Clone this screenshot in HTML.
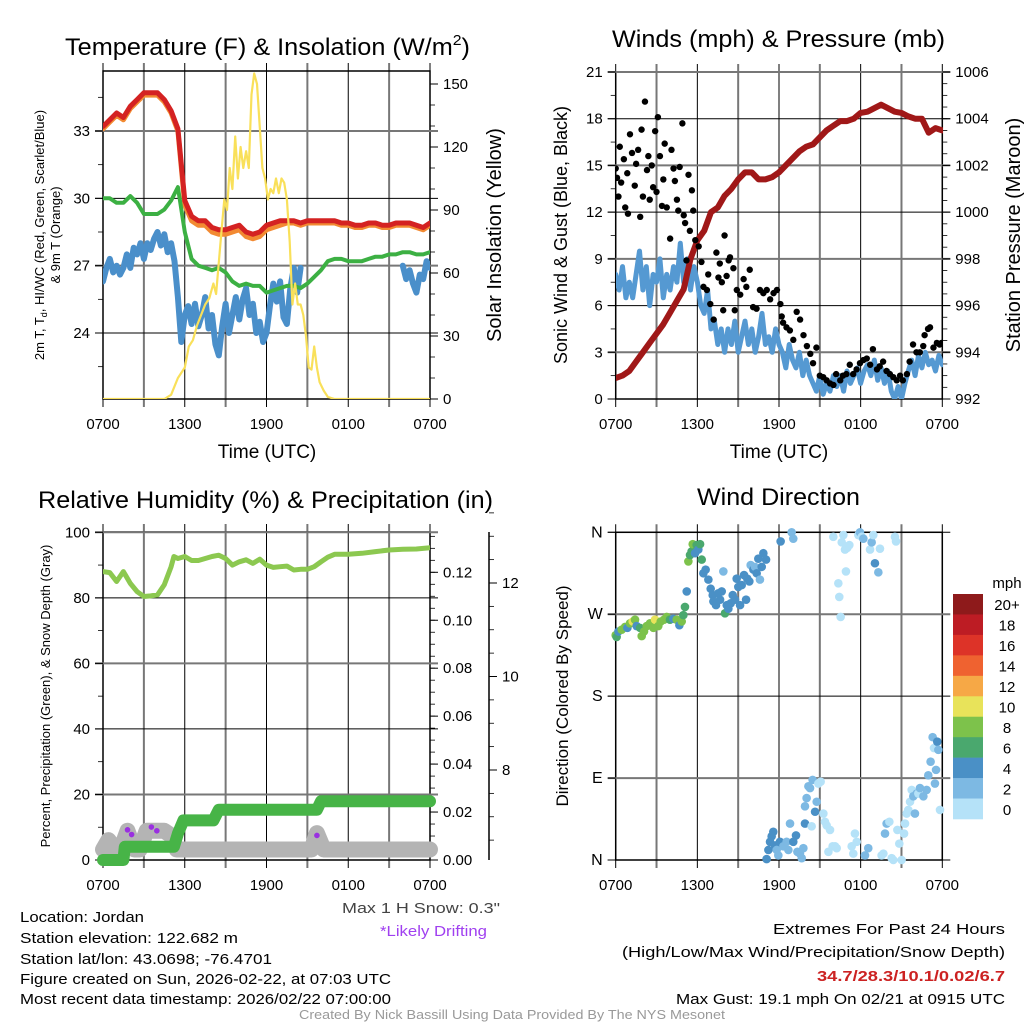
<!DOCTYPE html>
<html><head><meta charset="utf-8"><style>
html,body{margin:0;padding:0;background:#fff;}
svg{display:block;font-family:"Liberation Sans",sans-serif;}
</style></head><body>
<svg id="fig" width="1024" height="1024" viewBox="0 0 1024 1024" xmlns="http://www.w3.org/2000/svg">
<defs>
<clipPath id="c1"><rect x="103" y="71" width="327" height="328"/></clipPath>
<clipPath id="c2"><rect x="616" y="72" width="327" height="327"/></clipPath>
<clipPath id="c3"><rect x="103" y="532" width="327" height="328"/></clipPath>
<clipPath id="c4"><rect x="610" y="526" width="339" height="340"/></clipPath>
</defs>
<text x="65" y="55" font-size="24" textLength="405" lengthAdjust="spacingAndGlyphs">Temperature (F) &amp; Insolation (W/m<tspan font-size="15" dy="-10">2</tspan><tspan dy="10">)</tspan></text>
<text x="612" y="47" font-size="24" textLength="333" lengthAdjust="spacingAndGlyphs">Winds (mph) &amp; Pressure (mb)</text>
<text x="38" y="508" font-size="24" textLength="455" lengthAdjust="spacingAndGlyphs">Relative Humidity (%) &amp; Precipitation (in)</text>
<text x="697" y="505" font-size="24" textLength="163" lengthAdjust="spacingAndGlyphs">Wind Direction</text>

<text transform="translate(44,235) rotate(-90)" text-anchor="middle" font-size="13">2m T, T<tspan font-size="9" dy="3">d</tspan><tspan dy="-3">, HI/WC (Red, Green, Scarlet/Blue)</tspan></text>
<text transform="translate(60,235) rotate(-90)" text-anchor="middle" font-size="13">&amp; 9m T (Orange)</text>
<text transform="translate(501,235) rotate(-90)" text-anchor="middle" font-size="20">Solar Insolation (Yellow)</text>
<text transform="translate(567,235) rotate(-90)" text-anchor="middle" font-size="18">Sonic Wind &amp; Gust (Blue, Black)</text>
<text transform="translate(1020,235) rotate(-90)" text-anchor="middle" font-size="20">Station Pressure (Maroon)</text>
<text transform="translate(50,696) rotate(-90)" text-anchor="middle" font-size="13">Percent, Precipitation (Green), &amp; Snow Depth (Gray)</text>
<text transform="translate(568,696) rotate(-90)" text-anchor="middle" font-size="17">Direction (Colored By Speed)</text>
<text x="267" y="458" text-anchor="middle" font-size="19">Time (UTC)</text>
<text x="779" y="458" text-anchor="middle" font-size="19">Time (UTC)</text>

<g font-size="15">
<text x="500" y="913" text-anchor="end" fill="#444" textLength="158" lengthAdjust="spacingAndGlyphs">Max 1 H Snow: 0.3"</text>
<text x="487" y="936" text-anchor="end" fill="#a040f0" textLength="107" lengthAdjust="spacingAndGlyphs">*Likely Drifting</text>
<text x="20" y="922" textLength="124" lengthAdjust="spacingAndGlyphs">Location: Jordan</text>
<text x="20" y="943" textLength="218" lengthAdjust="spacingAndGlyphs">Station elevation: 122.682 m</text>
<text x="20" y="964" textLength="252" lengthAdjust="spacingAndGlyphs">Station lat/lon: 43.0698; -76.4701</text>
<text x="20" y="984" textLength="371" lengthAdjust="spacingAndGlyphs">Figure created on Sun, 2026-02-22, at 07:03 UTC</text>
<text x="20" y="1004" textLength="371" lengthAdjust="spacingAndGlyphs">Most recent data timestamp: 2026/02/22 07:00:00</text>
<text x="1005" y="934" text-anchor="end" textLength="232" lengthAdjust="spacingAndGlyphs">Extremes For Past 24 Hours</text>
<text x="1005" y="957" text-anchor="end" textLength="383" lengthAdjust="spacingAndGlyphs">(High/Low/Max Wind/Precipitation/Snow Depth)</text>
<text x="1005" y="981" text-anchor="end" fill="#cc2222" font-weight="bold" textLength="188" lengthAdjust="spacingAndGlyphs">34.7/28.3/10.1/0.02/6.7</text>
<text x="1005" y="1004" text-anchor="end" textLength="329" lengthAdjust="spacingAndGlyphs">Max Gust: 19.1 mph On 02/21 at 0915 UTC</text>
</g>
<text x="512" y="1019" text-anchor="middle" font-size="12.5" fill="#999" textLength="426" lengthAdjust="spacingAndGlyphs">Created By Nick Bassill Using Data Provided By The NYS Mesonet</text>
</svg>
<script>
// ---------- data (hours since 0700 UTC) ----------
const xTickLabels = ["0700","1300","1900","0100","0700"];
const halfHours = [0,0.5,1,1.5,2,2.5,3,3.5,4,4.5,5,5.5,6,6.5,7,7.5,8,8.5,9,9.5,10,10.5,11,11.5,12,12.5,13,13.5,14,14.5,15,15.5,16,16.5,17,17.5,18,18.5,19,19.5,20,20.5,21,21.5,22,22.5,23,23.5,24];
const quarterHours = [];
for (let i = 0; i <= 96; i++) quarterHours.push(i / 4);
const tempRed = [33.2,33.5,33.8,33.6,34.1,34.4,34.7,34.7,34.7,34.4,33.9,33.1,29.9,29.2,29.0,29.0,28.7,28.6,28.6,28.7,28.8,28.5,28.4,28.5,28.8,28.9,29.0,29.0,29.0,28.9,29.0,29.0,29.0,29.0,29.0,28.9,28.9,28.8,28.8,28.9,28.9,28.8,28.8,28.9,28.9,28.9,28.8,28.7,28.9];
const temp9m = [33.1,33.4,33.7,33.5,34.0,34.3,34.6,34.6,34.6,34.3,33.8,33.0,29.7,29.0,28.8,28.8,28.5,28.4,28.4,28.5,28.6,28.3,28.2,28.3,28.6,28.7,28.8,28.9,28.9,28.8,28.9,28.9,28.9,28.9,28.9,28.8,28.8,28.7,28.7,28.8,28.8,28.7,28.7,28.8,28.8,28.8,28.7,28.6,28.8];
const dewGreen = [30.0,30.0,29.8,29.8,30.1,29.8,29.3,29.3,29.3,29.5,29.9,30.5,28.5,27.3,27.0,26.9,26.8,26.9,26.7,26.3,26.1,26.2,26.1,26.1,25.8,25.9,26.0,26.1,26.1,26.0,26.2,26.5,26.8,27.2,27.3,27.3,27.2,27.2,27.2,27.3,27.4,27.4,27.5,27.5,27.6,27.6,27.5,27.5,27.6];
const hiwcBlue = [26.3,26.9,27.3,26.7,27.0,26.6,26.9,27.5,26.9,27.8,27.5,28.0,27.3,28.0,27.7,28.2,28.5,27.9,28.4,27.6,28.0,27.2,25.6,23.6,24.8,25.2,24.4,25.3,24.3,24.8,25.6,24.2,24.8,23.5,23.0,24.3,25.3,24.0,24.8,25.6,24.6,25.5,26.0,24.8,25.3,24.0,24.5,23.6,24.0,25.2,26.2,25.4,26.3,24.7,24.4,26.0,26.9,25.8,26.9,null,null,null,null,null,null,null,null,null,null,null,null,null,null,null,null,null,null,null,null,null,null,null,null,null,null,null,null,null,27.0,26.4,26.8,26.2,25.8,26.6,26.4,27.2,26.9];
const insTimes = [0,4.5,5,5.5,6,6.3,6.6,6.9,7.2,7.5,7.8,8.1,8.3,8.5,8.7,8.9,9.1,9.3,9.5,9.7,9.9,10.1,10.3,10.5,10.7,10.9,11.1,11.3,11.5,11.7,11.9,12.1,12.3,12.5,12.7,12.9,13.1,13.3,13.5,13.7,13.9,14.1,14.3,14.5,14.7,14.9,15.1,15.3,15.5,15.7,15.9,16.2,16.5,17,24];
const insolation = [0,0,2,10,15,25,28,35,40,45,48,55,50,65,80,95,90,110,100,125,105,120,110,118,110,145,155,150,130,110,105,95,100,98,105,98,105,103,95,75,45,55,45,45,40,30,15,14,25,15,8,4,1,0,0];
const windSpeed = [8,7,8.5,6.5,7.5,6.5,8,9.5,7,8.5,6,8,7.5,9,6.5,8,7,8.5,7.5,10,7.5,9,7,8.5,7.5,6,5.5,7,4.5,5,3.5,4.5,3,4.5,3.5,5,3,4,5,3.5,4.5,3,4,5.5,3.5,4,3,4.5,3.5,3,2,3.5,2.5,2,3,1.5,2.5,1.5,1,0.5,1.5,0.3,1,0.5,1.5,0.8,1.5,0.5,1.8,1,1.5,2,1,1.8,2.2,1.5,2.5,1.2,2,1,1.8,0.5,0,0.8,0,1,1.8,2.5,1.5,2.8,2,3,2.2,2.5,1.8,2.8,2.2];
const pressure = [992.9,993.0,993.2,993.6,994.0,994.4,994.8,995.2,995.7,996.2,996.7,998.0,998.8,999.2,1000.0,1000.2,1000.7,1001.0,1001.4,1001.7,1001.7,1001.4,1001.4,1001.5,1001.7,1002.0,1002.3,1002.6,1002.8,1002.9,1003.2,1003.5,1003.7,1003.9,1003.9,1004.0,1004.25,1004.3,1004.45,1004.6,1004.45,1004.3,1004.25,1004.1,1004.0,1004.0,1003.4,1003.6,1003.5];
const gustTimes = [0,0.1,0.2,0.3,0.4,0.6,0.7,0.85,0.9,1.05,1.2,1.4,1.5,1.65,1.8,1.9,2.0,2.15,2.3,2.4,2.5,2.65,2.75,2.9,3.0,3.1,3.25,3.4,3.5,3.6,3.75,4.0,4.1,4.25,4.35,4.5,4.6,4.7,4.9,5.0,5.1,5.2,5.35,5.45,5.6,5.7,5.85,6.1,6.3,6.45,6.7,6.8,6.95,7.2,7.4,7.55,7.65,7.8,7.9,8.0,8.15,8.3,8.4,8.65,8.75,8.9,9.15,9.4,9.6,9.85,10.1,10.35,10.6,10.85,11.1,11.35,11.6,11.85,12.1,12.2,12.3,12.55,12.8,13.05,13.3,13.55,13.8,14.05,14.3,14.5,14.75,15.0,15.25,15.5,15.75,16.0,16.2,16.5,16.7,16.95,17.2,17.45,17.7,17.95,18.2,18.45,18.7,18.9,19.2,19.4,19.65,19.9,20.15,20.4,20.65,20.9,21.1,21.4,21.6,21.85,22.1,22.35,22.6,22.7,22.95,23.1,23.35,23.6,23.8,23.95];
const gustValues = [14.8,14.2,13,16.2,13.9,15.4,12.3,14.5,11.9,17,15.8,13.7,15.1,16,11.7,17.3,13,19.1,14.7,15.6,12.8,15,13.6,17.2,13.3,18.1,15.6,12.4,14.1,16.4,12.3,10.3,16,14.8,14,12.8,12.1,14.9,17.7,11.8,11.3,8.9,14.4,10.8,13.4,12.1,10.2,9.8,8.8,7.2,7,8,6.1,5.1,9.4,7.8,8.7,7.5,5.7,10.5,7.9,8.9,9.1,8.4,5.7,7,6.7,7.7,7.2,8.3,5.9,5.8,7,6.8,7,6.4,6.8,7,6.1,5.3,4.9,4.6,4.4,3.8,5.6,5.1,4.1,3.4,2.9,2.3,3.3,1.5,1.4,1.2,1,0.9,1.6,1.2,1.5,1.6,2.2,1.6,1.9,2.3,2.5,2.6,2.2,3.2,1.9,2.1,2.4,1.8,1.6,1.4,1.2,1.5,1.2,1.6,2.4,3.5,3,3,3.4,4.1,4.5,4.6,3.3,3.6,3.5,3.6];
const rhTimes = [0,0.5,1,1.5,2,2.5,3,3.5,4,4.5,5,5.2,5.5,6,6.5,7,7.5,8,8.5,9,9.5,10,10.5,11,11.5,12,12.5,13,13.5,14,14.5,15,15.5,16,16.5,17,18,19,20,21,22,23,24];
const rhValues = [88,87.7,85,88,84.4,81.9,80.4,80.6,80.9,84,89.5,92.6,92,92.6,91.4,91.4,92,92.6,93,92,90,91,91.6,90.5,91.8,90,89.3,89.5,89.7,88.5,88.7,88.7,89.5,91,92.4,93.3,93.3,93.6,94.1,94.6,94.8,94.9,95.3];
const precipTimes = [0,1.5,1.6,5.2,5.5,5.9,8.1,8.5,15.7,16.0,24];
const precipValues = [0,0,0.0055,0.0055,0.011,0.0165,0.0165,0.021,0.021,0.0245,0.0245];
const snowTimes = [0,0.4,0.9,1.3,1.8,2.3,2.7,3.2,4.5,5.0,5.4,6,15.3,15.7,16.2,24];
const snowValues = [6.3,6.5,6.3,6.3,6.7,6.3,6.3,6.7,6.7,6.6,6.3,6.3,6.3,6.65,6.3,6.3];
const driftTimes = [1.8,2.1,3.55,3.95,15.7];
const driftValues = [6.72,6.62,6.78,6.7,6.6];
const dirTimes = [0,0.07,0.2,0.44,0.69,0.86,1.05,1.25,1.42,1.54,1.79,1.91,2.08,2.28,2.52,2.77,2.89,3.13,3.31,3.55,3.75,3.99,4.24,4.48,4.68,4.85,4.97,5.09,5.22,5.34,5.46,5.58,5.66,5.83,5.95,6.07,6.2,6.32,6.44,6.61,6.81,6.98,7.13,7.18,7.37,7.54,7.67,7.79,7.91,8.03,8.16,8.28,8.45,8.6,8.77,8.89,9.01,9.14,9.26,9.43,9.58,9.67,9.82,9.92,10.12,10.24,10.36,10.48,10.6,10.73,10.85,11.05,11.09,11.22,11.34,11.46,11.58,11.71,11.83,11.95,12.07,12.12,12.93,13.05,12.32,12.56,12.69,12.81,13.05,13.25,13.35,13.54,13.67,13.79,13.91,13.91,14.03,14.16,14.28,14.4,14.47,14.65,14.77,14.89,15.06,15.26,15.38,15.5,15.63,15.75,15.94,15.99,16.12,16.24,16.36,16.43,16.53,16.61,16.73,16.85,16.92,17.02,17.17,17.34,17.46,17.58,17.71,17.83,17.95,18.08,18.2,18.32,18.56,18.69,18.81,18.93,19.05,19.3,19.42,19.54,19.67,19.79,19.91,20.11,20.28,20.4,20.52,20.6,20.7,20.84,21.01,21.19,21.26,21.38,21.5,21.63,21.75,21.87,21.99,22.12,22.24,22.36,22.61,22.85,22.97,23.14,23.29,23.39,23.46,23.54,23.63,23.71,23.83,23.95];
const dirDegrees = [247,245,251,253,256,255,260,262,264,257,255,246,251,257,260,255,264,257,262,264,267,264,265,264,258,262,269,278,295,328,335,339,347,337,346,341,347,330,315,319,308,298,291,284,280,293,286,295,317,271,280,276,282,291,286,309,300,280,302,313,286,309,306,324,319,322,315,331,308,322,337,330,1,11,20,26,31,16,11,5,20,350,360,353,15,20,11,40,20,27,9,7,2,13,40,59,68,81,79,37,88,53,64,84,86,51,42,38,9,33,15,355,15,13,304,289,267,349,357,341,317,343,346,15,7,29,20,357,360,355,353,5,13,341,349,357,326,316,342,5,7,29,40,42,2,0,355,350,33,18,0,29,40,51,55,64,77,70,51,73,73,79,70,77,93,108,135,123,84,99,130,121,55];
const dirSpeeds = [8,6,4,8,8,4,8,10,8,4,6,8,8,8,8,8,10,8,8,8,8,6,4,8,4,8,6,6,4,8,6,6,8,4,6,4,6,6,4,4,4,4,4,4,4,4,4,4,2,6,4,4,4,4,4,4,4,4,4,4,4,4,4,2,4,2,4,4,2,4,4,4,4,4,4,4,4,4,2,2,4,4,2,2,2,2,2,2,4,4,2,2,2,2,4,2,2,2,2,0,2,4,2,0,0,0,0,0,0,0,0,0,0,0,0,0,0,0,0,0,0,0,0,0,0,0,0,0,2,0,2,2,2,0,2,0,4,2,0,0,0,2,2,0,0,0,0,0,0,0,0,0,0,0,0,0,0,2,2,2,0,2,2,2,2,2,2,0,2,2,4,2,0,2];
const speedBinLabels = ["20+","18","16","14","12","10","8","6","4","2","0"];
const speedBinColors = ["#8e1a1b","#bd1c24","#dd3328","#ef6230","#f6a846","#e8e35a","#7dc24b","#4aa86e","#4a90c6","#7db9e3","#b5e2f8"];

// ---------- helpers ----------
const NS="http://www.w3.org/2000/svg";
const svg=document.getElementById('fig');
function mk(tag,attrs,parent){const e=document.createElementNS(NS,tag);for(const k in attrs)e.setAttribute(k,attrs[k]);(parent||svg).appendChild(e);return e;}
function lin(d0,d1,r0,r1){return v=>r0+(v-d0)*(r1-r0)/(d1-d0);}
function pathFrom(xs,ys,fx,fy){let d='',pen=false;for(let i=0;i<xs.length;i++){if(ys[i]===null||ys[i]===undefined){pen=false;continue;}d+=(pen?'L':'M')+fx(xs[i]).toFixed(1)+','+fy(ys[i]).toFixed(1);pen=true;}return d;}

function frame(name,x0,x1,y0,y1){
  const g=mk('g',{});
  
  
  for(let i=0;i<=8;i++){
    const x=x0+(x1-x0)*i/8;
    const l=mk('line',{x1:x,x2:x,y1:y0-8,y2:y1+8,stroke:i%2?'#777':'#000','stroke-width':i%2?2:1},g);
    
    
  }
  const r=mk('rect',{x:x0,y:y0,width:x1-x0,height:y1-y0,fill:'none',stroke:'#000','stroke-width':1.5},g);
  
  
  for(let i=0;i<5;i++){
    const t=mk('text',{x:x0+(x1-x0)*i/4,y:y1+30,'text-anchor':'middle','font-size':15},g);
    
    
    t.textContent=xTickLabels[i];
  }
}
function hAxis(name,x0,x1,fy,majors,minors,labels,side,grid,fs){
  const g=mk('g',{});
  
  
  majors.forEach((v,i)=>{
    const y=fy(v);
    if(grid){const l=mk('line',{x1:x0-8,x2:x1+8,y1:y,y2:y,stroke:i%2?'#777':'#000','stroke-width':i%2?2:1},g);
      
      }
    const ax=side==='left'?x0:x1;
    mk('line',{x1:ax,x2:side==='left'?ax-8:ax+8,y1:y,y2:y,stroke:'#000','stroke-width':1},g);
    const t=mk('text',{x:side==='left'?ax-13:ax+13,y:y+5,'text-anchor':side==='left'?'end':'start','font-size':fs||15},g);
    
    
    t.textContent=labels[i];
  });
  minors.forEach(v=>{const y=fy(v);const ax=side==='left'?x0:x1;
    mk('line',{x1:ax,x2:side==='left'?ax-5:ax+5,y1:y,y2:y,stroke:'#000','stroke-width':0.8},g);});
}
function series(name,d,color,w,clip,extra){
  const p=mk('path',Object.assign({d:d,fill:'none',stroke:color,'stroke-width':w,'stroke-linejoin':'round','stroke-linecap':'round','clip-path':'url(#'+clip+')'},extra||{}));
  
  
  return p;
}
function range(a,b,s){const r=[];for(let v=a;v<=b+1e-9;v+=s)r.push(+v.toFixed(4));return r;}

// ---------- panel 1: temperature ----------
{
  const fx=lin(0,24,103,430), fy=lin(24,33,333,131), fyI=lin(0,150,399,84);
  frame('temp',103,430,71,399);
  hAxis('temp-left-axis',103,430,fy,[24,27,30,33],[22.5,25.5,28.5,31.5,34.5],["24","27","30","33"],'left',true);
  hAxis('insolation-right-axis',103,430,fyI,[0,30,60,90,120,150],range(10,150,10),["0","30","60","90","120","150"],'right',false);
  series('hiwc-blue-line',pathFrom(quarterHours,hiwcBlue,fx,fy),'#4a8fca',6,'c1');
  series('temp-9m-orange-line',pathFrom(halfHours,temp9m,fx,fy),'#f28a32',5,'c1');
  series('temp-red-line',pathFrom(halfHours,tempRed,fx,fy),'#d42222',5,'c1');
  series('dewpoint-green-line',pathFrom(halfHours,dewGreen,fx,fy),'#3cb043',4,'c1');
  series('insolation-yellow-line',pathFrom(insTimes,insolation,fx,fyI),'#f9e05a',2.2,'c1');
}
// ---------- panel 2: winds & pressure ----------
{
  const fx=lin(0,24,615.7,942.3), fy=lin(0,21,399,72), fyP=lin(992,1006,399,72);
  frame('wind',615.7,942.3,72,399);
  hAxis('wind-left-axis',615.7,942.3,fy,[0,3,6,9,12,15,18,21],range(1.5,19.5,3),["0","3","6","9","12","15","18","21"],'left',true);
  hAxis('pressure-right-axis',615.7,942.3,fyP,[992,994,996,998,1000,1002,1004,1006],range(992.5,1005.5,0.5),["992","994","996","998","1000","1002","1004","1006"],'right',false);
  series('sonic-wind-line',pathFrom(quarterHours,windSpeed,fx,fy),'#5599d2',5,'c2');
  series('pressure-line',pathFrom(halfHours,pressure,fx,fyP),'#a01818',6,'c2');
  const g=mk('g',{'clip-path':'url(#c2)'});
  
  
  gustTimes.forEach((t,i)=>{const c=mk('circle',{cx:fx(t),cy:fy(gustValues[i]),r:3.2,fill:'#000'},g);
    
    });
}
// ---------- panel 3: RH & precip ----------
{
  const fx=lin(0,24,103,430), fy=lin(0,100,860,532.3), fyP=lin(0,0.12,860,572.3), fyS=lin(8,12,770,583);
  frame('rh',103,430,532,860);
  hAxis('rh-left-axis',103,430,fy,[0,20,40,60,80,100],range(10,90,20),["0","20","40","60","80","100"],'left',true);
  hAxis('precip-right-axis',103,430,fyP,[0,0.02,0.04,0.06,0.08,0.10,0.12],range(0.005,0.135,0.005),["0.00","0.02","0.04","0.06","0.08","0.10","0.12"],'right',false);
  const ax=mk('line',{x1:489,x2:489,y1:532,y2:860,stroke:'#000','stroke-width':1.5});
  
  
  hAxis('snow-right-axis',430,489,fyS,[8,10,12],range(6.5,13.5,0.5),["8","10","12"],'right',false);
  series('snow-depth-line',pathFrom(snowTimes,snowValues,fx,fyS),'#b4b4b4',16,'c3',{'clip-path':''});
  series('precip-line',pathFrom(precipTimes,precipValues,fx,fyP),'#47b447',12,'c3',{'clip-path':''});
  series('rh-line',pathFrom(rhTimes,rhValues,fx,fy),'#8cc850',5,'c3');
  driftTimes.forEach((t,i)=>{const c=mk('circle',{cx:fx(t),cy:fyS(driftValues[i]),r:2.8,fill:'#9a30e0'});
    
    });
}
// ---------- panel 4: wind direction ----------
{
  const fx=lin(0,24,615.7,942.3), fy=lin(0,360,860,532.3);
  frame('direction',615.7,942.3,532.3,860);
  hAxis('direction-left-axis',615.7,942.3,fy,[0,90,180,270,360],[],["N","E","S","W","N"],'left',true,16);
  const g=mk('g',{'clip-path':'url(#c4)'});
  
  
  dirTimes.forEach((t,i)=>{
    const s=dirSpeeds[i];const bin=Math.max(0,Math.min(10,10-Math.round(s/2)));
    const c=mk('circle',{cx:fx(t),cy:fy(dirDegrees[i]),r:4.3,fill:speedBinColors[bin]},g);
    
    
  });
  const lg=mk('g',{});
  
  
  const t0=mk('text',{x:1007,y:588,'text-anchor':'middle','font-size':15},lg);
  
  
  t0.textContent='mph';
  const top=594,h=(819-594)/11;
  speedBinLabels.forEach((lab,i)=>{
    const r=mk('rect',{x:953,y:top+i*h,width:30,height:h+0.3,fill:speedBinColors[i]},lg);
    
    
    const t=mk('text',{x:1007,y:top+i*h+h/2+6,'text-anchor':'middle','font-size':15},lg);
    
    
    t.textContent=lab;
  });
}
</script>
</body></html>
